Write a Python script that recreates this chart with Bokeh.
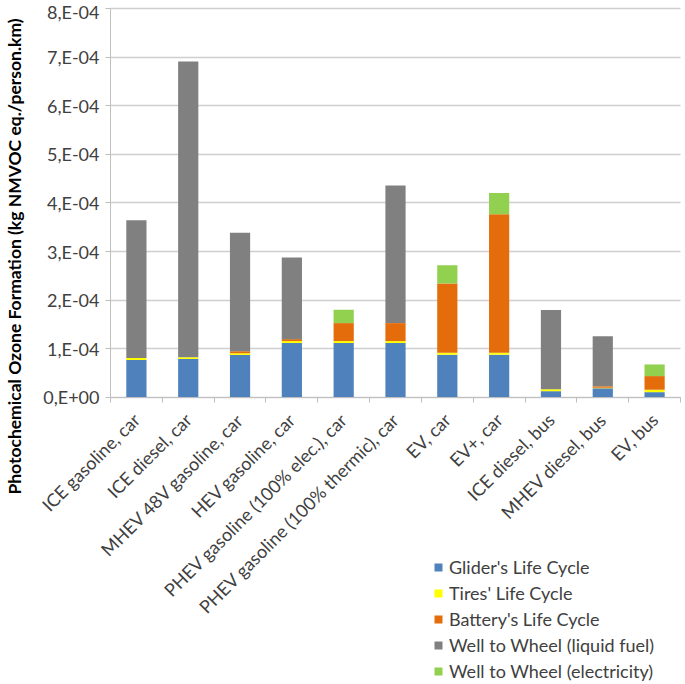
import math
from bokeh.plotting import figure
from bokeh.models import Range1d, FixedTicker, Label, ColumnDataSource
from bokeh.embed import file_html
from bokeh.resources import INLINE

categories = ["ICE gasoline, car", "ICE diesel, car", "MHEV 48V gasoline, car",
              "HEV gasoline, car", "PHEV gasoline (100% elec.), car",
              "PHEV gasoline (100% thermic), car", "EV, car", "EV+, car",
              "ICE diesel, bus", "MHEV diesel, bus", "EV, bus"]

glider = [0.773e-4, 0.79e-4, 0.875e-4, 1.12e-4, 1.12e-4, 1.12e-4, 0.88e-4, 0.88e-4, 0.13e-4, 0.19e-4, 0.11e-4]
tires = [0.037e-4, 0.04e-4, 0.035e-4, 0.04e-4, 0.04e-4, 0.04e-4, 0.04e-4, 0.04e-4, 0.04e-4, 0.01e-4, 0.05e-4]
battery = [0.0, 0.0, 0.04e-4, 0.04e-4, 0.37e-4, 0.37e-4, 1.425e-4, 2.85e-4, 0.0, 0.03e-4, 0.28e-4]
wtw_fuel = [2.835e-4, 6.08e-4, 2.44e-4, 1.68e-4, 0.0, 2.83e-4, 0.0, 0.0, 1.63e-4, 1.03e-4, 0.0]
wtw_elec = [0.0, 0.0, 0.0, 0.0, 0.275e-4, 0.0, 0.375e-4, 0.435e-4, 0.0, 0.0, 0.24e-4]

series_names = ["Glider's Life Cycle", "Tires' Life Cycle", "Battery's Life Cycle",
                "Well to Wheel (liquid fuel)", "Well to Wheel (electricity)"]
series_colors = ["#4F81BD", "#FFFF00", "#E46C0A", "#808080", "#92D050"]

y_ticks = [0.0, 1e-4, 2e-4, 3e-4, 4e-4, 5e-4, 6e-4, 7e-4, 8e-4]
y_tick_labels = ["0,E+00", "1,E-04", "2,E-04", "3,E-04", "4,E-04", "5,E-04", "6,E-04", "7,E-04", "8,E-04"]
y_title = "Photochemical Ozone Formation (kg NMVOC eq./person.km)"

FONT = "Lato"
TXT = "#404040"
FS = "18px"
GRID = "#CFCFCF"

keys = ["glider", "tires", "battery", "wtw_fuel", "wtw_elec"]
n = len(categories)
xs = list(range(n))
source = ColumnDataSource(dict(x=xs, glider=glider, tires=tires, battery=battery,
                               wtw_fuel=wtw_fuel, wtw_elec=wtw_elec))

# The frame covers the whole figure; both axes are fixed inside it so that the
# rotated labels, the legend and the axis title are never clipped.
p = figure(width=682, height=682, output_backend="svg", toolbar_location=None,
           x_range=Range1d(-2.6228, n - 0.5 + 0.0386),
           y_range=Range1d(-5.8612e-4, 8.1645e-4),
           min_border_left=0, min_border_right=0, min_border_top=0, min_border_bottom=0)
p.outline_line_color = None
p.background_fill_color = "white"

grid = p.ygrid[0]
grid.ticker = FixedTicker(ticks=y_ticks)
if "cross_bounds" in grid.properties():
    grid.cross_bounds = (-0.5, n - 0.5)
    grid.grid_line_color = GRID
    grid.grid_line_width = 1.3
else:
    grid.visible = False
    p.segment(x0=[-0.5] * len(y_ticks), x1=[n - 0.5] * len(y_ticks), y0=y_ticks, y1=y_ticks,
              line_color=GRID, line_width=1.3)
p.xgrid.grid_line_color = None

p.vbar_stack(keys, x="x", width=0.39, source=source, color=series_colors,
             line_color=None, legend_label=series_names)

# x axis
xa = p.xaxis[0]
xa.fixed_location = 0
xa.bounds = (-0.5, n - 0.5)
xa.ticker = FixedTicker(ticks=[float(i) for i in xs],
                        minor_ticks=[i - 0.5 for i in range(n + 1)])
xa.major_label_overrides = {float(i): c for i, c in enumerate(categories)}
xa.major_label_orientation = math.pi / 4
xa.major_tick_line_color = None
xa.minor_tick_line_color = "#BFBFBF"
xa.minor_tick_out = 5
xa.minor_tick_in = 0
xa.axis_line_color = "#BFBFBF"
xa.major_label_text_font = FONT
xa.major_label_text_font_size = FS
xa.major_label_text_color = TXT
xa.major_label_standoff = 13

# y axis
ya = p.yaxis[0]
ya.fixed_location = -0.5
ya.bounds = (0, 8e-4)
ya.ticker = FixedTicker(ticks=y_ticks)
ya.major_label_overrides = {t: l for t, l in zip(y_ticks, y_tick_labels)}
ya.minor_tick_line_color = None
ya.major_tick_line_color = "#BFBFBF"
ya.major_tick_out = 5
ya.major_tick_in = 0
ya.axis_line_color = "#BFBFBF"
ya.major_label_text_font = FONT
ya.major_label_text_font_size = FS
ya.major_label_text_color = TXT
ya.major_label_standoff = 6

p.add_layout(Label(x=14, y=426, x_units="screen", y_units="screen", text=y_title,
                   angle=math.pi / 2, text_align="center", text_baseline="middle",
                   text_font=FONT, text_font_style="bold", text_font_size="17.5px",
                   text_color="#000000"))

leg = p.legend[0]
leg.location = (433, 0)
leg.border_line_color = None
leg.background_fill_alpha = 0
leg.label_text_font = FONT
leg.label_text_font_size = FS
leg.label_text_color = TXT
leg.glyph_width = 10
leg.glyph_height = 10
leg.label_height = 22
leg.spacing = 4
leg.padding = 0
leg.margin = 0
leg.label_standoff = 6

open("out.html", "w").write(file_html(p, INLINE))
